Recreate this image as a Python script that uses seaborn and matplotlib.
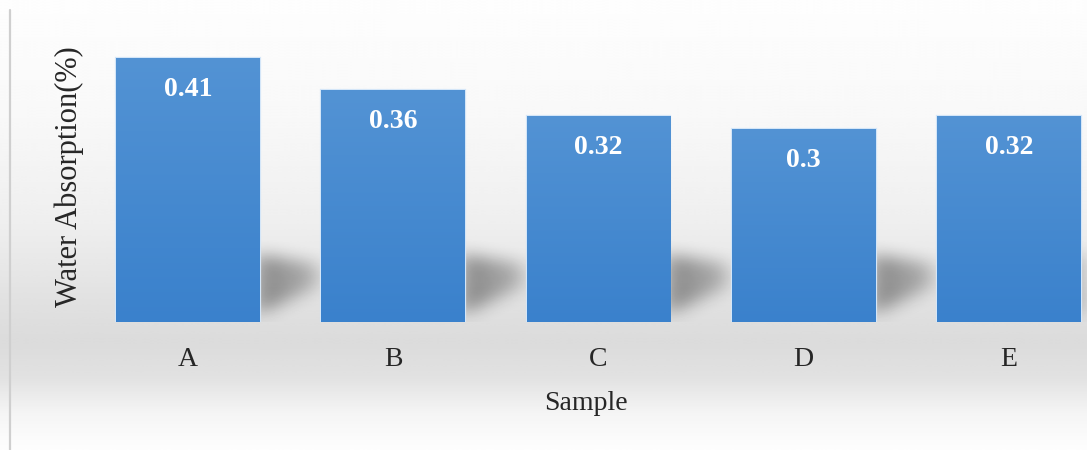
import numpy as np
import matplotlib
matplotlib.use("Agg")
import matplotlib.pyplot as plt
import pandas as pd
import seaborn as sns
from matplotlib.colors import LinearSegmentedColormap

# ---- data -------------------------------------------------------------
samples = ["A", "B", "C", "D", "E"]
absorption = [0.41, 0.36, 0.32, 0.30, 0.32]
value_labels = ["0.41", "0.36", "0.32", "0.3", "0.32"]

df = pd.DataFrame({"Sample": samples, "Absorption": absorption})

sns.set_theme(style="white")
plt.rcParams["font.family"] = ["Liberation Serif", "DejaVu Serif"]

W, H = 1087, 450
fig = plt.figure(figsize=(W / 100, H / 100), dpi=100)

# ---- soft page background (vertical grey gradient) ---------------------
bg = fig.add_axes([0, 0, 1, 1], zorder=-10)
rows = np.linspace(0, 1, 300)
stop_pos = [0.00, 0.25, 0.50, 0.68, 0.76, 0.84, 0.92, 1.00]
stop_val = [0.995, 0.975, 0.935, 0.880, 0.860, 0.885, 0.960, 0.995]
shade = np.interp(rows, stop_pos, stop_val)
bg.imshow(np.repeat(shade[:, None], 2, axis=1), cmap="gray", vmin=0, vmax=1,
          aspect="auto", extent=[0, 1, 0, 1], interpolation="bicubic")
bg.set_xlim(0, 1)
bg.set_ylim(0, 1)
bg.axis("off")

# thin frame line on the left side of the chart area
fig.add_artist(plt.Line2D([10 / W, 10 / W], [0, 1 - 10 / H],
                          transform=fig.transFigure, color="#cfcfcf", lw=1.6))

# ---- plot area ----------------------------------------------------------
ax = fig.add_axes([85 / W, 128 / H, (W - 85) / W, 290 / H])
ax.patch.set_alpha(0)

bar_w = 0.7
sns.barplot(data=df, x="Sample", y="Absorption", color="#4a8cd2",
            width=bar_w, edgecolor="#d4e6f8", linewidth=1.6, ax=ax, zorder=3)

x_lo, x_hi = -0.502, 4.38
y_lo, y_hi = 0.0, 0.45
ax.set_xlim(x_lo, x_hi)
ax.set_ylim(y_lo, y_hi)

# soft perspective shadows cast to the right of each bar
nx, ny = 1000, 290
gx = np.linspace(x_lo, x_hi, nx)
gy = np.linspace(y_hi, y_lo, ny)
XX, YY = np.meshgrid(gx, gy)
dark = np.zeros_like(XX)
for i, v in enumerate(absorption):
    x0 = i + bar_w / 2 - 0.02
    t = (XX - x0) / 0.30
    inside_x = (t >= 0) & (t <= 1)
    top = 0.105 - 0.015 * t
    bot = 0.010 + 0.045 * t
    inside = inside_x & (YY <= top) & (YY >= bot)
    dark = np.maximum(dark, np.where(inside, 0.42 * (1 - 0.45 * t), 0))


def box_blur(a, r, axis):
    k = np.ones(2 * r + 1) / (2 * r + 1)
    return np.apply_along_axis(lambda m: np.convolve(m, k, mode="same"), axis, a)


for _ in range(3):
    dark = box_blur(dark, 9, 1)
    dark = box_blur(dark, 7, 0)

shadow = np.zeros((ny, nx, 4))
shadow[..., 3] = dark
ax.imshow(shadow, extent=[x_lo, x_hi, y_lo, y_hi], aspect="auto",
          zorder=1, interpolation="bilinear")
ax.set_xlim(x_lo, x_hi)
ax.set_ylim(y_lo, y_hi)

# blue vertical gradient fill on each bar
bar_cmap = LinearSegmentedColormap.from_list("barblue", ["#3a81cc", "#5393d4"])
grad = np.linspace(0, 1, 256)[:, None]
for patch in ax.patches:
    bx, by = patch.get_x(), patch.get_y()
    bw, bh = patch.get_width(), patch.get_height()
    im = ax.imshow(grad, cmap=bar_cmap, aspect="auto", origin="lower",
                   extent=[bx, bx + bw, by, by + bh], zorder=4)
    im.set_clip_path(patch)
ax.set_xlim(x_lo, x_hi)
ax.set_ylim(y_lo, y_hi)

# value labels inside the bars
for i, (v, lab) in enumerate(zip(absorption, value_labels)):
    ax.annotate(lab, xy=(i, v), xytext=(0, -23), textcoords="offset points",
                ha="center", va="center", color="white", fontsize=20,
                fontweight="bold", zorder=6)

# axes styling
sns.despine(ax=ax, left=True, bottom=True)
ax.set_yticks([])
ax.tick_params(axis="x", length=0, pad=18, labelsize=20, colors="#262626")
ax.set_xlabel("Sample", fontsize=20, color="#262626", labelpad=14)
ax.set_ylabel("Water Absorption(%)", fontsize=22, color="#262626", labelpad=1)

fig.savefig("out.png", dpi=100)
